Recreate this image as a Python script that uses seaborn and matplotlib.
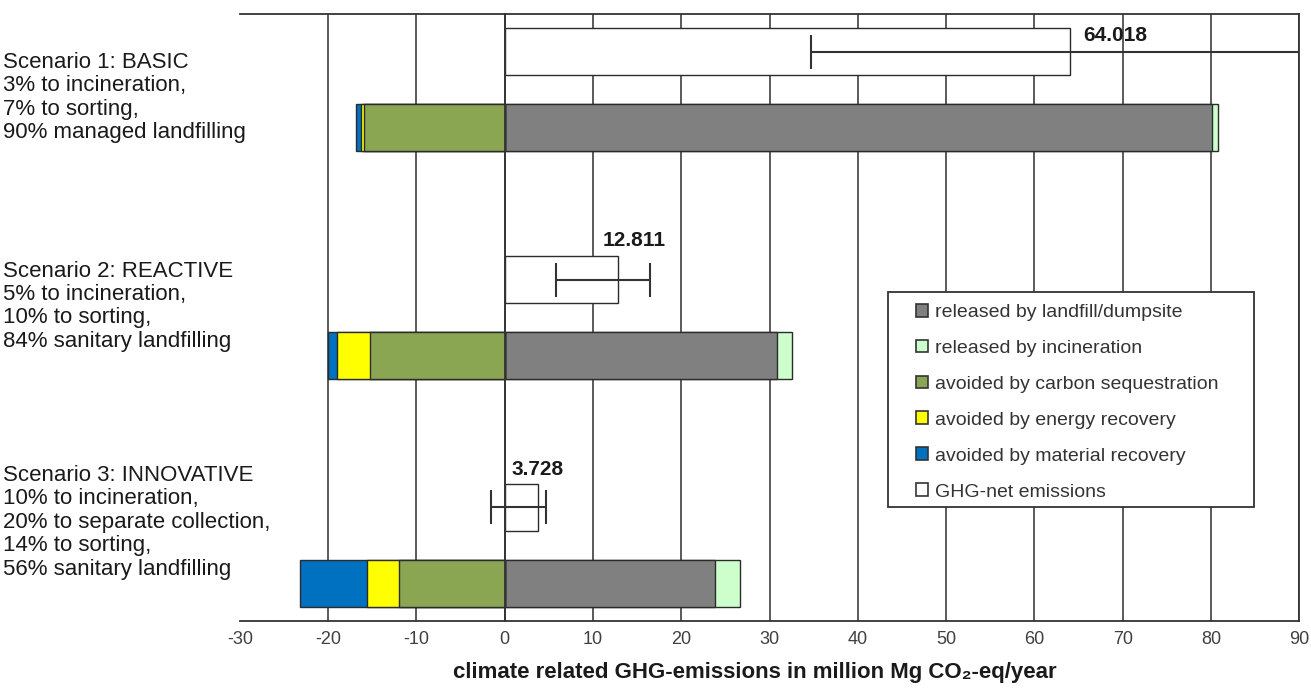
import matplotlib
matplotlib.use("Agg")
import matplotlib.pyplot as plt
import matplotlib.transforms as mtransforms
from matplotlib.patches import Patch, Rectangle
import numpy as np
import pandas as pd
import seaborn as sns

# scenario descriptions (left-hand labels)
scenario_labels = [
    "Scenario 1: BASIC\n3% to incineration,\n7% to sorting,\n90% managed landfilling",
    "Scenario 2: REACTIVE\n5% to incineration,\n10% to sorting,\n84% sanitary landfilling",
    "Scenario 3: INNOVATIVE\n10% to incineration,\n20% to separate collection,\n14% to sorting,\n56% sanitary landfilling",
]

# GHG components, million Mg CO2-eq/year
landfill = [80.1, 30.8, 23.8]
incineration = [0.7, 1.7, 2.8]
carbon_seq = [-15.9, -15.3, -12.0]
energy_rec = [-0.4, -3.7, -3.6]
material_rec = [-0.6, -1.0, -7.6]

# net emissions and error range
net = [64.018, 12.811, 3.728]
net_low = [34.7, 5.8, -1.5]
net_high = [93.3, 16.5, 4.7]

legend_labels = [
    "released by landfill/dumpsite",
    "released by incineration",
    "avoided by carbon sequestration",
    "avoided by energy recovery",
    "avoided by material recovery",
    "GHG-net emissions",
]
colors = ["#808080", "#CCFFCC", "#8BA652", "#FFFF00", "#0070C0", "#FFFFFF"]
edge = "#2b2b2b"

sns.set_style("white")
plt.rcParams["font.family"] = ["Liberation Sans", "DejaVu Sans"]

net_slots = ["net1", "net2", "net3"]
stack_slots = ["stk1", "stk2", "stk3"]
order = ["net1", "stk1", "gap1", "net2", "stk2", "gap2", "net3", "stk3"]

stack = pd.DataFrame({
    "slot": stack_slots,
    "landfill": landfill,
    "incineration": incineration,
    "carbon": carbon_seq,
    "energy": energy_rec,
    "material": material_rec,
})
stack["pos2"] = stack["landfill"] + stack["incineration"]
stack["neg2"] = stack["carbon"] + stack["energy"]
stack["neg3"] = stack["neg2"] + stack["material"]
netdf = pd.DataFrame({"slot": net_slots, "net": net})

fig = plt.figure(figsize=(13.11, 6.89), dpi=100)
ax = fig.add_axes([0.183, 0.0987, 0.808, 0.881])

bar_kw = dict(y="slot", order=order, orient="h", width=0.62, saturation=1,
              edgecolor=edge, linewidth=1.0, errorbar=None, ax=ax)
# stacked via overlay of cumulative sums
sns.barplot(data=stack, x="pos2", color=colors[1], **bar_kw)
sns.barplot(data=stack, x="landfill", color=colors[0], **bar_kw)
sns.barplot(data=stack, x="neg3", color=colors[4], **bar_kw)
sns.barplot(data=stack, x="neg2", color=colors[3], **bar_kw)
sns.barplot(data=stack, x="carbon", color=colors[2], **bar_kw)
sns.barplot(data=netdf, x="net", color="white", **bar_kw)

# error bars on net bars
ypos = [order.index(s) for s in net_slots]
xerr = np.array([np.array(net) - np.array(net_low), np.array(net_high) - np.array(net)])
ax.errorbar(net, ypos, xerr=xerr, fmt="none", ecolor="#333333", elinewidth=1.5,
            capsize=12, capthick=1.5, zorder=5)

# value labels
dx = [5.1, 1.8, 0.0]
dy = [-0.21, -0.51, -0.5]
for v, y, ox, oy in zip(net, ypos, dx, dy):
    ax.text(v + ox, y + oy, f"{v:.3f}", ha="center", va="center",
            fontsize=15, fontweight="bold", color="#1a1a1a", zorder=6)

ax.set_xlim(-30, 90)
ax.set_ylim(len(order) - 0.5, -0.5)
ax.set_xticks(np.arange(-30, 91, 10))
ax.set_xticklabels([str(t) for t in range(-30, 91, 10)])
ax.set_yticks(np.arange(-0.5, len(order), 1))
ax.set_yticklabels([])
ax.set_ylabel("")
ax.grid(axis="x", color="#4d4d4d", linewidth=1.3)
ax.get_xgridlines()[0].set_visible(False)
ax.set_axisbelow(True)

for s in ["top", "bottom", "right"]:
    ax.spines[s].set_color("#333333")
    ax.spines[s].set_linewidth(1.3)
ax.spines["left"].set_position(("data", 0))
ax.spines["left"].set_color("#333333")
ax.spines["left"].set_linewidth(1.3)
ax.spines["left"].set_zorder(4)
ax.tick_params(axis="y", direction="out", length=4, width=1.2, color="#333333")
ax.tick_params(axis="x", direction="inout", length=7, width=1.2, color="#333333",
               labelsize=13, labelcolor="#404040", pad=4)

ax.set_xlabel("climate related GHG-emissions in million Mg CO₂-eq/year",
              fontsize=16, fontweight="bold", color="#1a1a1a")
ax.xaxis.set_label_coords(0.486, -0.068)

# scenario labels left of the axes
trans = mtransforms.blended_transform_factory(fig.transFigure, ax.transData)
label_y = [0.6, 3.35, 6.2]
for txt, y in zip(scenario_labels, label_y):
    ax.text(0.002, y, txt, transform=trans, ha="left", va="center",
            fontsize=16, color="#1a1a1a", linespacing=1.15, clip_on=False)

# legend: frame drawn separately to get the wide inner padding
frame = Rectangle((0.612, 0.188), 0.345, 0.354, transform=ax.transAxes,
                  facecolor="white", edgecolor="#333333", linewidth=1.3, zorder=7)
ax.add_patch(frame)
handles = [Patch(facecolor=c, edgecolor="#333333", linewidth=1.2) for c in colors]
leg = ax.legend(handles, legend_labels, loc="upper left",
                bbox_to_anchor=(0.638, 0.523), borderaxespad=0, borderpad=0,
                fontsize=14, frameon=False,
                handlelength=0.65, handleheight=0.65, handletextpad=0.35,
                labelspacing=0.96)
leg.set_zorder(8)
for t in leg.get_texts():
    t.set_color("#333333")

fig.savefig("out.png", dpi=100)
